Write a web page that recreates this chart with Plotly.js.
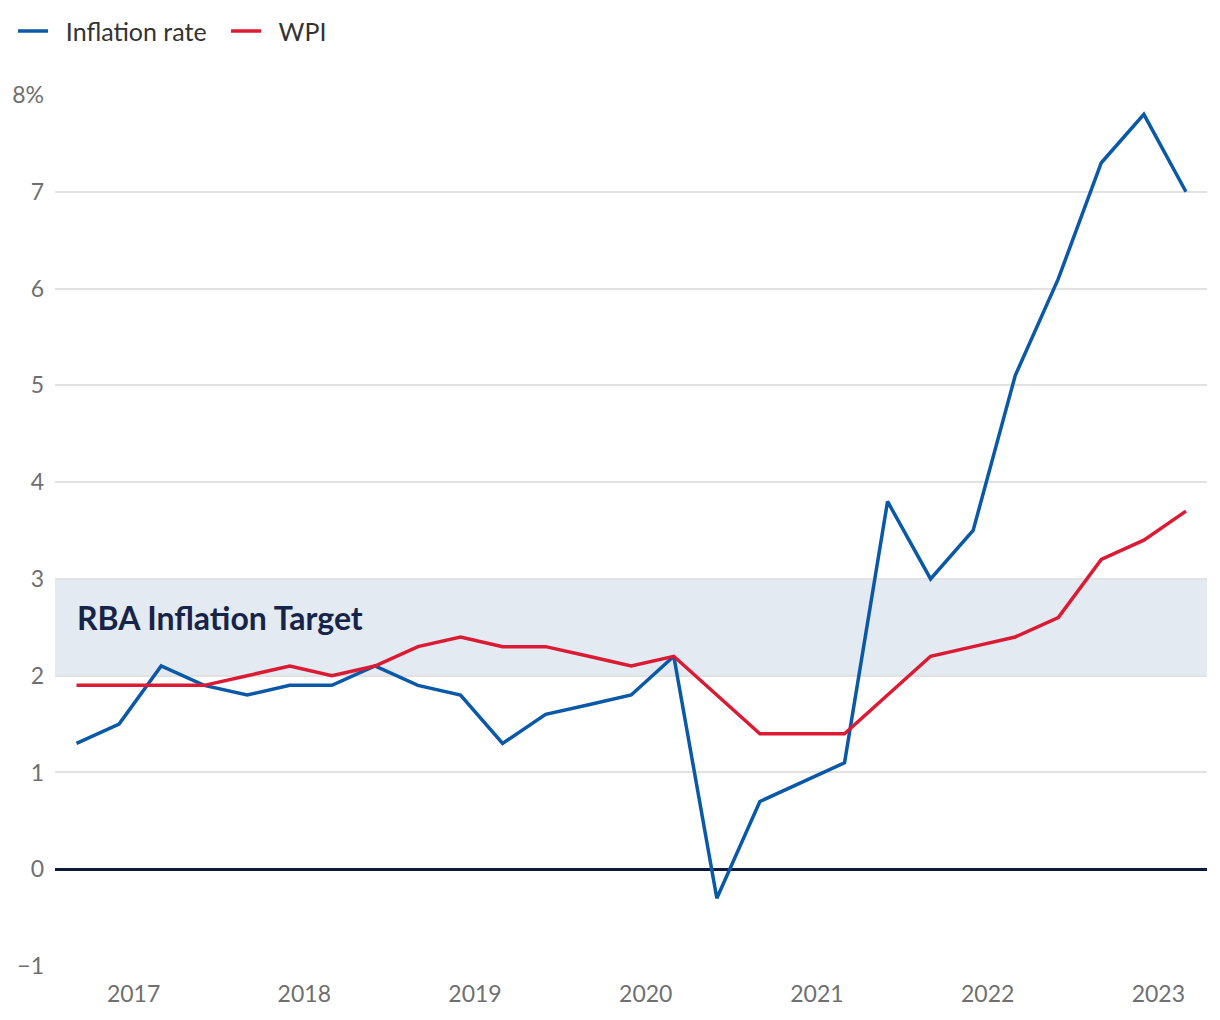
<!DOCTYPE html>
<html><head><meta charset="utf-8">
<script src="https://cdn.plot.ly/plotly-3.0.1.min.js"></script>
<style>body{margin:0;background:#fff}#c{width:1220px;height:1020px}</style>
</head><body><div id="c"></div>
<script>
const quarters = ["2016-09-01","2016-12-01","2017-03-01","2017-06-01","2017-09-01","2017-12-01","2018-03-01","2018-06-01","2018-09-01","2018-12-01","2019-03-01","2019-06-01","2019-09-01","2019-12-01","2020-03-01","2020-06-01","2020-09-01","2020-12-01","2021-03-01","2021-06-01","2021-09-01","2021-12-01","2022-03-01","2022-06-01","2022-09-01","2022-12-01","2023-03-01"];
const inflationRate = [1.3,1.5,2.1,1.9,1.8,1.9,1.9,2.1,1.9,1.8,1.3,1.6,1.7,1.8,2.2,-0.3,0.7,0.9,1.1,3.8,3.0,3.5,5.1,6.1,7.3,7.8,7.0];
const wpi = [1.9,1.9,1.9,1.9,2.0,2.1,2.0,2.1,2.3,2.4,2.3,2.3,2.2,2.1,2.2,1.8,1.4,1.4,1.4,1.8,2.2,2.3,2.4,2.6,3.2,3.4,3.7];
const yTickVals = [-1,0,1,2,3,4,5,6,7,8];
const yTickText = ["\u22121","0","1","2","3","4","5","6","7","8%"];
const xTickVals = ["2017-01-01","2018-01-01","2019-01-01","2020-01-01","2021-01-01","2022-01-01","2023-01-01"];
const xTickText = ["2017","2018","2019","2020","2021","2022","2023"];
const seriesNames = ["Inflation rate", "WPI"];
const targetLow = 2, targetHigh = 3;
const targetLabel = "RBA Inflation Target";

const FONT = "Lato, 'Open Sans', sans-serif";
const PAD = "\u00a0\u00a0";
const traces = [
  {x: quarters, y: inflationRate, type: "scatter", mode: "lines", name: PAD + seriesNames[0],
   line: {color: "#0a58a8", width: 3.5}},
  {x: quarters, y: wpi, type: "scatter", mode: "lines", name: PAD + seriesNames[1],
   line: {color: "#dc1a34", width: 3.5}}
];
const layout = {
  width: 1220, height: 1020,
  margin: {l: 55, r: 13, t: 95, b: 54},
  paper_bgcolor: "#fff", plot_bgcolor: "#fff",
  font: {family: FONT, color: "#6f6f6f", size: 23},
  showlegend: true,
  legend: {orientation: "h", xref: "container", yref: "container", x: 0.0107, xanchor: "left", y: 0.992, yanchor: "top",
    font: {size: 25, color: "#333"}, itemwidth: 30, entrywidth: 168, entrywidthmode: "pixels"},
  xaxis: {type: "date", range: ["2016-07-17", "2023-04-15"], tickvals: xTickVals, ticktext: xTickText,
    showgrid: false, zeroline: false, showline: false, ticks: "", automargin: false, ticklabelstandoff: 12,
    tickfont: {size: 23, color: "#6f6f6f"}},
  yaxis: {range: [-1, 8], tickvals: yTickVals, ticktext: yTickText, showgrid: true, gridcolor: "#e2e2e2", gridwidth: 1.5,
    zeroline: true, zerolinecolor: "#0f1a3a", zerolinewidth: 3, showline: false, ticks: "", ticklabelstandoff: 10,
    automargin: false, tickfont: {size: 23, color: "#6f6f6f"}},
  shapes: [{type: "rect", xref: "paper", x0: 0, x1: 1, yref: "y", y0: targetLow, y1: targetHigh,
    fillcolor: "#e4eaf1", line: {width: 0}, layer: "below"}],
  annotations: [{xref: "paper", x: 0.0174, xanchor: "left", yref: "y", y: 2.6, yanchor: "middle",
    text: "<b>" + targetLabel + "</b>", showarrow: false, font: {size: 32, color: "#17244a", family: FONT}}]
};
Plotly.newPlot("c", traces, layout, {displayModeBar: false});
</script></body></html>
